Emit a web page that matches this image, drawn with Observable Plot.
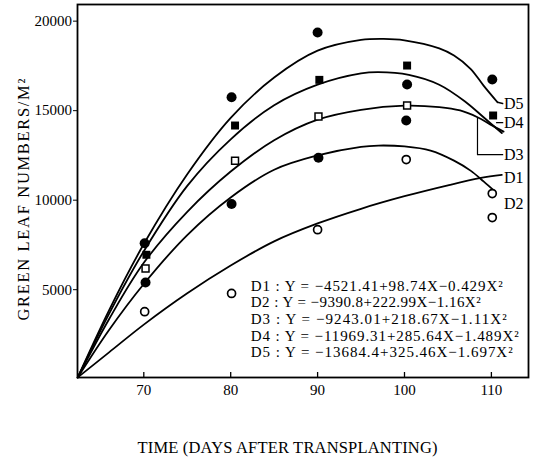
<!DOCTYPE html>
<html>
<head>
<meta charset="utf-8">
<script src="https://cdn.jsdelivr.net/npm/d3@7"></script>
<script src="https://cdn.jsdelivr.net/npm/@observablehq/plot@0.6"></script>
<style>
  html, body { margin: 0; padding: 0; background: #fff; }
  #chart { width: 536px; height: 457px; }
</style>
</head>
<body>
<div id="chart"></div>
<script>
// ---- tick labels ----
const xTicks = [70, 80, 90, 100, 110];
const yTicks = [5000, 10000, 15000, 20000];

// ---- fitted curves ----
const d1Days = [62.4, 66, 70, 75, 80, 85, 90, 95, 100, 105, 108.8, 111.2];
const d1Vals = [100, 1500, 3050, 4800, 6350, 7700, 8700, 9520, 10220, 10830, 11240, 11410];

const d2Days = [62.4, 66, 70, 75, 80, 85, 90, 95, 97, 100, 103, 105.7, 107.6, 109.1, 110.4];
const d2Vals = [100, 2750, 5320, 8050, 10150, 11700, 12500, 12980, 13050, 13000, 12770, 12210, 11650, 11050, 10490];

const d3Days = [62.4, 66, 70, 75, 80, 85, 90, 95, 100, 104, 106.4, 108.4, 109.9, 111.4];
const d3Vals = [100, 3350, 6500, 9350, 11600, 13350, 14500, 15050, 15280, 15200, 15010, 14630, 14220, 13830];

const d4Days = [62.4, 66, 70, 75, 80, 85, 90, 95, 97, 100.5, 104, 107, 109.1, 111.2];
const d4Vals = [100, 3650, 7150, 10800, 13400, 15300, 16450, 17080, 17150, 17000, 16450, 15500, 14630, 13750];

const d5Days = [62.4, 66, 70, 75, 80, 85, 90, 95, 97.6, 100, 104, 105.7, 107.6, 109.1, 110.7];
const d5Vals = [100, 3850, 7550, 11450, 14600, 16850, 18350, 18950, 19010, 18930, 18480, 18080, 17340, 16400, 15470];

// ---- observed points, grouped by marker ----
const filledCircleDays = [70.1, 70.2, 80.1, 80.1, 90, 90.1, 100.3, 100.2, 110.1];
const filledCircleVals = [7590, 5400, 15750, 9790, 19370, 12370, 16460, 14450, 16740];

const filledSquareDays = [70.3, 80.5, 90.2, 100.3, 110.2];
const filledSquareVals = [6950, 14170, 16720, 17520, 14730];

const openSquareDays = [70.2, 80.5, 90.1, 100.3];
const openSquareVals = [6180, 12200, 14670, 15290];

const openCircleDays = [70.1, 80.1, 90, 100.2, 110.1, 110.1];
const openCircleVals = [3770, 4790, 8350, 12270, 10370, 9030];

// ---- curve names and label annotations ----
const seriesNames = ["D1", "D2", "D3", "D4", "D5"];
const labelNames = ["D5", "D4", "D3", "D1", "D2"];
const labelVals = [15400, 14330, 12540, 11260, 9810];
const labelDay = 111.45;

// ---- regression equations ----
const equations = [
  "D1 : Y = −4521.41+98.74X−0.429X²",
  "D2 : Y = −9390.8+222.99X−1.16X²",
  "D3 : Y = −9243.01+218.67X−1.11X²",
  "D4 : Y = −11969.31+285.64X−1.489X²",
  "D5 : Y = −13684.4+325.46X−1.697X²"
];
const equationVals = [5222, 4288, 3360, 2426, 1493];
const equationDay = 82.3;
const equationEnds = [502, 480, 506, 518, 512]; // approx right ends in px

const xTitle = "TIME (DAYS AFTER TRANSPLANTING)";
const yTitle = "GREEN LEAF NUMBERS/M²";

// ---- build tables ----
const curveDays = [d1Days, d2Days, d3Days, d4Days, d5Days];
const curveVals = [d1Vals, d2Vals, d3Vals, d4Vals, d5Vals];
const curveRows = [];
seriesNames.forEach((s, k) => curveDays[k].forEach((d, i) => curveRows.push({series: s, x: d, y: curveVals[k][i]})));

const pts = (xs, ys) => xs.map((x, i) => ({x, y: ys[i]}));
const fc = pts(filledCircleDays, filledCircleVals);
const fs = pts(filledSquareDays, filledSquareVals);
const os = pts(openSquareDays, openSquareVals);
const oc = pts(openCircleDays, openCircleVals);

const labels = labelNames.map((n, i) => ({name: n, x: labelDay, y: labelVals[i]}));
const eqRows = equations.map((t, i) => ({t, x: equationDay, y: equationVals[i]}));

// leader marks (annotation geometry, in data units)
const d5End = {x: d5Days[d5Days.length - 1], y: d5Vals[d5Vals.length - 1]};
const leaderD5 = [d5End, {x: labelDay - 0.15, y: labelVals[0]}];
const leaderD4 = [{x: 110.6, y: labelVals[1]}, {x: labelDay - 0.15, y: labelVals[1]}];
const bracketD3 = [{x: 108.4, y: 14630}, {x: 108.4, y: labelVals[2]}, {x: labelDay - 0.15, y: labelVals[2]}];

const serif = "'Liberation Serif', 'DejaVu Serif', serif";
const plotHeight = 457, mTop = 4, mBottom = 80;

const chart = Plot.plot({
  width: 536,
  height: plotHeight,
  marginLeft: 77,
  marginRight: 8,
  marginTop: mTop,
  marginBottom: mBottom,
  x: {domain: [62.37, 114.27]},
  y: {domain: [95, 20930]},
  style: {fontFamily: serif, fontSize: "15px", color: "black", background: "white"},
  marks: [
    Plot.line(curveRows, {x: "x", y: "y", z: "series", curve: "catmull-rom", stroke: "black", strokeWidth: 1.8}),
    Plot.line(leaderD5, {x: "x", y: "y", stroke: "black", strokeWidth: 1.4}),
    Plot.line(leaderD4, {x: "x", y: "y", stroke: "black", strokeWidth: 1.4}),
    Plot.line(bracketD3, {x: "x", y: "y", stroke: "black", strokeWidth: 1.2}),
    Plot.dot(fc, {x: "x", y: "y", symbol: "circle", r: 5, fill: "black", stroke: "none"}),
    Plot.dot(fs, {x: "x", y: "y", symbol: "square", r: 4.5, fill: "black", stroke: "none"}),
    Plot.dot(os, {x: "x", y: "y", symbol: "square", r: 3.9, fill: "white", stroke: "black", strokeWidth: 1.5}),
    Plot.dot(oc, {x: "x", y: "y", symbol: "circle", r: 4, fill: "white", stroke: "black", strokeWidth: 1.7}),
    Plot.text(labels, {x: "x", y: "y", text: "name", textAnchor: "start", lineAnchor: "middle", fontSize: 16, fill: "black"}),
    Plot.text(eqRows, {x: "x", y: "y", text: "t", textAnchor: "start", lineAnchor: "middle", fontSize: 15, fill: "black"}),
    Plot.frame({stroke: "black", strokeWidth: 1.8}),
    // inward x tick marks (5px tall from the bottom of the frame)
    Plot.tickX(xTicks, {x: d => d, stroke: "black", strokeWidth: 1.3, insetTop: plotHeight - mTop - mBottom - 5}),
    Plot.axisY({ticks: yTicks, tickSize: 4, tickPadding: 1.5, tickFormat: "d", fontSize: 15, label: null}),
    Plot.axisX({ticks: xTicks, tickSize: 0, tickPadding: 7, tickFormat: "d", fontSize: 15, label: null}),
    Plot.text([xTitle], {frameAnchor: "bottom", textAnchor: "middle", lineAnchor: "middle", dx: -15.5, dy: 70, fontSize: 16.5, fill: "black"}),
    Plot.text([yTitle], {frameAnchor: "left", textAnchor: "middle", lineAnchor: "middle", rotate: -90, dx: -53.5, dy: 8.6, fontSize: 16.5, fill: "black"})
  ]
});

document.getElementById("chart").appendChild(chart);

// stretch texts to the widths seen in the reference
d3.select(chart).selectAll("text").each(function() {
  const t = this.textContent;
  const k = equations.indexOf(t);
  if (k >= 0) {
    this.setAttribute("textLength", equationEnds[k] - 250);
    this.setAttribute("lengthAdjust", "spacing");
  } else if (t === xTitle) {
    this.setAttribute("textLength", 300);
    this.setAttribute("lengthAdjust", "spacing");
  } else if (t === yTitle) {
    this.setAttribute("textLength", 242);
    this.setAttribute("lengthAdjust", "spacing");
  }
});
</script>
</body>
</html>
